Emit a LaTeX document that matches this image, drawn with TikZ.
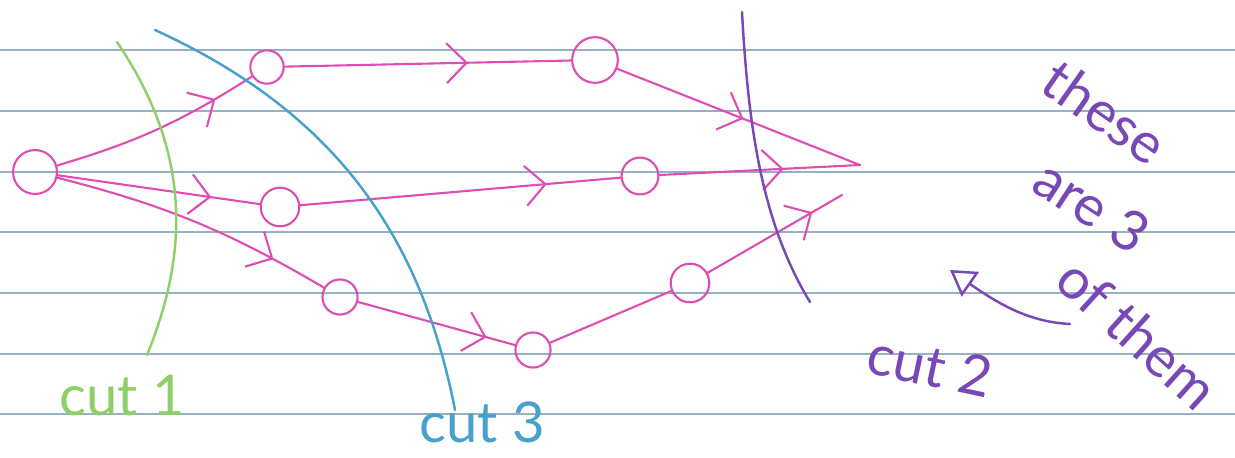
\documentclass[tikz,border=0pt]{standalone}
\usepackage{fontspec}
\setmainfont{Lato}
\usetikzlibrary{arrows.meta,decorations.markings}
\definecolor{penpink}{RGB}{222,78,178}
\definecolor{pengreen}{RGB}{142,208,104}
\definecolor{penblue}{RGB}{72,160,204}
\definecolor{penpurple}{RGB}{120,72,182}
\definecolor{ruled}{RGB}{150,176,196}
\begin{document}
\begin{tikzpicture}[x=0.02cm, y=-0.02cm,
    flow/.style={pen, postaction={decorate}, decoration={markings,
        mark=at position #1 with {\arrow{Straight Barb[length=4mm, width=8mm, line width=1.2pt]}}}}]
    % Styles
    \tikzstyle{pen} = [draw=penpink, line width=1.2pt, line cap=round]
    \tikzstyle{vertex} = [circle, draw=penpink, line width=1.2pt, inner sep=0pt]
    \tikzstyle{cutline} = [line width=1.4pt, line cap=round]
    \tikzstyle{scrawl} = [font=\fontsize{32}{34}\selectfont, inner sep=0pt]
    \useasboundingbox (0,0) rectangle (1235,457);

    % === Ruled paper ===
    \foreach \y in {50,111,172,232,293,354,414}
        \draw [ruled, line width=0.7pt] (0,\y) -- (1235,\y);

    % === Vertices ===
    \node [vertex, minimum size=25pt] (s) at (35,172) {};
    \node [vertex, minimum size=19pt] (a) at (267,67) {};
    \node [vertex, minimum size=22pt] (b) at (280,207) {};
    \node [vertex, minimum size=20pt] (c) at (340,297) {};
    \node [vertex, minimum size=20pt] (d) at (533,350) {};
    \node [vertex, minimum size=26pt] (e) at (595,60) {};
    \node [vertex, minimum size=21pt] (f) at (640,176) {};
    \node [vertex, minimum size=22pt] (g) at (690,283) {};
    \coordinate (t) at (860,165);
    \coordinate (u) at (842,195);

    % === Flow edges ===
    \draw [flow=0.8] (s) to[bend right=8] (a);
    \draw [flow=0.76] (s) -- (b);
    \draw [flow=0.8] (s) to[bend left=8] (c);
    \draw [flow=0.64] (a) -- (e);
    \draw [flow=0.77] (b) -- (f);
    \draw [flow=0.82] (c) -- (d);
    \draw [pen] (d) -- (g);
    \draw [flow=0.52] (e) -- (t);
    \draw [flow=0.62] (f) -- (t);
    \draw [flow=0.78] (g) -- (u);

    % === Cuts ===
    \draw [cutline, pengreen] (117,42) .. controls (190,150) and (190,250) .. (147,355);
    \draw [cutline, penblue] (155,30) .. controls (330,110) and (420,230) .. (455,410);
    \draw [cutline, penpurple] (742,12) .. controls (748,120) and (760,220) .. (810,302);

    % === Labels ===
    \node [scrawl, text=pengreen] (cuta) at (122,396) {cut 1};
    \node [scrawl, text=penblue] (cutc) at (482,422) {cut 3};
    \node [scrawl, text=penpurple, rotate=-12] (cutb) at (930,366) {cut 2};
    \node [scrawl, text=penpurple, rotate=-35] (these) at (1105,112) {these};
    \node [scrawl, text=penpurple, rotate=-33] (are) at (1092,206) {are 3};
    \node [scrawl, text=penpurple, rotate=-42] (ofthem) at (1138,334) {of them};
    \coordinate (hook) at (1070,324);
    \coordinate (tip) at (950,270);
    \draw [cutline, penpurple, -{Triangle[open, length=5mm, width=6mm]}]
        (hook) .. controls (1030,322) and (1000,305) .. (tip);
\end{tikzpicture}
\end{document}
